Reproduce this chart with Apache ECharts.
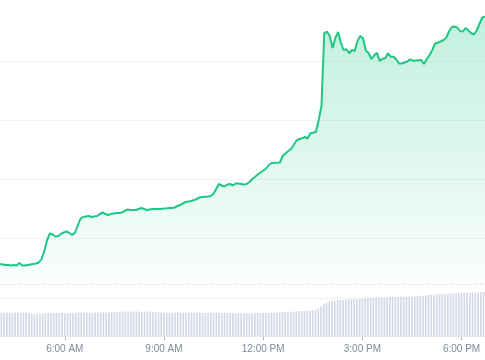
<!DOCTYPE html>
<html>
<head>
<meta charset="utf-8">
<script src="https://cdn.jsdelivr.net/npm/echarts@6/dist/echarts.min.js"></script>
<style>html,body{margin:0;padding:0;background:#fff}#c{width:485px;height:360px}</style>
</head>
<body>
<div id="c"></div>
<script>
// 5-minute steps starting at 4:05 AM
const startMinute = 4 * 60 + 5;
const stepMinutes = 5;
const pointCount = 176;

const tickLabels = ['6:00 AM', '9:00 AM', '12:00 PM', '3:00 PM', '6:00 PM'];

// price (height units above chart base)
const price = [
  34, 33.5, 33, 33, 32.5, 33, 32.5, 35, 32.5, 32.5,
  33, 33.5, 34, 34.5, 35.5, 39, 47, 58, 64.5, 63.5,
  61.5, 62, 64, 65.5, 66.5, 65, 63, 65, 72, 79,
  81, 81.5, 82, 81, 81.5, 82, 84, 85.5, 84, 83,
  84, 84.5, 85, 85, 85.5, 87, 88.5, 88, 88, 88,
  89, 90, 89, 88, 88.5, 89, 89, 89, 89, 89.5,
  89.5, 90, 90, 90.5, 92, 93, 94.5, 96, 96.5, 97,
  98, 99, 100.5, 101, 101.3, 101.5, 102, 104, 109, 114,
  112.5, 111.5, 113.5, 114, 112.5, 114.5, 114.5, 114, 113.5, 114,
  116, 119, 121, 123.5, 125.5, 127.5, 129.5, 133, 135, 135.3,
  135.3, 135.5, 142, 144.5, 147, 149, 153, 157.5, 159, 159.7,
  161, 159.5, 164.7, 165.3, 166.3, 178, 192, 265, 266.3, 262,
  250, 260, 266, 255, 248, 248.7, 244.7, 248, 247, 257,
  262, 259.7, 247.5, 245, 239, 242.5, 245.3, 237, 239.3, 239.7,
  244.7, 241.3, 241.3, 238.5, 234.5, 234.5, 235.5, 236.5, 238.7, 237.3,
  237.5, 237.7, 238, 234, 239, 243, 248, 254.7, 255.3, 256.5,
  258, 260, 266.5, 270.7, 271.5, 270.5, 267, 266.5, 270, 267.5,
  265, 263.5, 267.5, 274, 280.5, 281.3
];

const volume = [
  24.5, 24, 24.5, 24.5, 24, 24.5, 24.5, 24, 24.5, 24.5, 24,
  23, 22.5, 22.5, 23, 23.5,
  24, 24, 23.5, 24, 24, 24, 24, 23.5, 24, 24, 24, 24.5, 24.5,
  24.5, 24.5, 24.5, 24.5, 24, 24.5, 24.5, 24.5, 25, 24.5, 24.5, 25, 25, 25, 25,
  25.5, 25.5, 25.5, 25, 25.5, 25.5, 25.5, 25, 25, 25.5, 25.5, 25, 25, 24.5,
  24.5, 24.5, 24, 24, 24.5, 24.5, 24.5, 24.5, 24, 24, 24.5, 24.5, 24.5, 24.5, 24.5, 24, 24, 24.5, 24.5, 24.5, 24.5, 24, 24, 24.5, 24,
  24, 24, 23.5, 23.5, 23.5, 24, 24, 23.5, 23.5, 23.5, 24, 24, 24, 24, 24, 24.5, 24.5, 24.5,
  24.5, 25, 25, 25, 25, 25.5, 25.5,
  26, 26, 26, 26, 26.5, 26.5,
  27, 28.5, 30.5, 33, 34.5, 35.5, 36, 36.3,
  37, 37, 37, 37.3,
  37.5, 37.5, 38, 38, 38, 38.3,
  39, 39, 39, 39.3, 39.5, 39.5, 39.5, 39.7, 39.7,
  40, 40, 40, 40, 40.3, 40.3, 40.5, 40.5, 40.5, 40.5,
  41, 41, 41.3, 41.5, 42, 42, 42.5, 42.5,
  42.7, 43, 43, 43.3, 43.5, 43.5, 43.7,
  44, 44, 44, 44.3, 44.3, 44.5, 44.5, 44.7, 45, 45
];

const baselineValue = 14; // dotted reference line

const times = [];
for (let i = 0; i < pointCount; i++) {
  const m = startMinute + i * stepMinutes;
  const h = Math.floor(m / 60), mm = m % 60;
  const h12 = (h % 12) || 12;
  times.push(h12 + ':' + String(mm).padStart(2, '0') + ' ' + (h < 12 ? 'AM' : 'PM'));
}

const showTick = (idx, val) => tickLabels.indexOf(val) >= 0;

const chart = echarts.init(document.getElementById('c'), null, {renderer: 'canvas'});
chart.setOption({
  animation: false,
  backgroundColor: '#ffffff',
  grid: [
    {left: 0, right: 0, top: 8, bottom: 62},
    {left: 0, right: 0, top: 237, bottom: 23}
  ],
  xAxis: [
    {type: 'category', gridIndex: 0, data: times, boundaryGap: false,
     axisLine: {show: false}, axisTick: {show: false}, axisLabel: {show: false}, splitLine: {show: false}},
    {type: 'category', gridIndex: 1, data: times, boundaryGap: true,
     axisLine: {show: false},
     axisTick: {show: true, interval: showTick, alignWithLabel: true, length: 3, lineStyle: {color: '#a6adbb'}},
     axisLabel: {interval: showTick, color: '#808a9d', fontSize: 10, fontFamily: 'Liberation Sans, Arial, sans-serif', margin: 7},
     splitLine: {show: false}}
  ],
  yAxis: [
    {type: 'value', gridIndex: 0, min: 0, max: 290, interval: 59.3,
     axisLine: {show: false}, axisTick: {show: false}, axisLabel: {show: false},
     splitLine: {show: true, showMaxLine: false, lineStyle: {color: '#eff2f5', width: 1}}},
    {type: 'value', gridIndex: 1, min: 0, max: 100,
     axisLine: {show: false}, axisTick: {show: false}, axisLabel: {show: false}, splitLine: {show: false}}
  ],
  series: [
    {
      type: 'line', xAxisIndex: 0, yAxisIndex: 0, data: price,
      showSymbol: false, smooth: false,
      lineStyle: {color: '#1fc785', width: 2},
      itemStyle: {color: '#1fc785'},
      areaStyle: {
        origin: baselineValue,
        color: new echarts.graphic.LinearGradient(0, 0, 0, 1, [
          {offset: 0, color: 'rgba(22,199,132,0.38)'},
          {offset: 1, color: 'rgba(22,199,132,0.03)'}
        ])
      },
      markLine: {
        silent: true, symbol: 'none', label: {show: false},
        lineStyle: {color: '#c5cad4', type: [1, 2], width: 1},
        data: [{yAxis: baselineValue}]
      },
      z: 3
    },
    {
      type: 'bar', xAxisIndex: 1, yAxisIndex: 1, data: volume,
      barWidth: '60%',
      itemStyle: {color: '#d2d8e6'},
      z: 2
    }
  ]
});
</script>
</body>
</html>
